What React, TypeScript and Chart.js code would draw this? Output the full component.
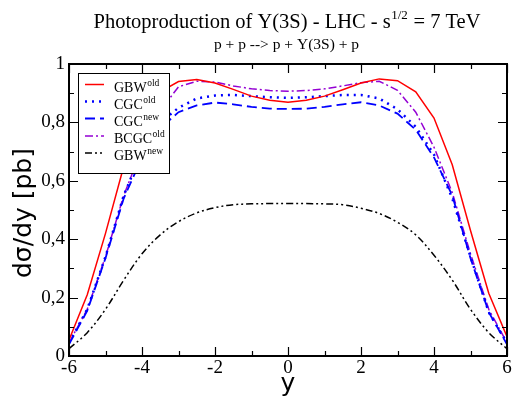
import React, { useEffect, useRef } from "react";
import { Chart, registerables } from "chart.js";

Chart.register(...registerables);

const rapidity = [-6, -5.5, -5, -4.5, -4, -3.5, -3, -2.5, -2, -1.5, -1, -0.5, 0, 0.5, 1, 1.5, 2, 2.5, 3, 3.5, 4, 4.5, 5, 5.5, 6];
const gbwOld = [0.055, 0.21, 0.42, 0.65, 0.82, 0.905, 0.94, 0.947, 0.935, 0.913, 0.89, 0.876, 0.869, 0.876, 0.89, 0.912, 0.935, 0.949, 0.943, 0.905, 0.815, 0.655, 0.43, 0.215, 0.066];
const cgcOld = [0.045, 0.16, 0.34, 0.55, 0.70, 0.80, 0.85, 0.882, 0.892, 0.894, 0.89, 0.886, 0.884, 0.886, 0.89, 0.894, 0.894, 0.882, 0.845, 0.785, 0.69, 0.54, 0.34, 0.15, 0.045];
const cgcNew = [0.04, 0.155, 0.335, 0.54, 0.68, 0.78, 0.835, 0.858, 0.868, 0.862, 0.853, 0.847, 0.846, 0.847, 0.853, 0.862, 0.869, 0.858, 0.83, 0.775, 0.68, 0.55, 0.335, 0.15, 0.04];
const bcgcOld = [0.045, 0.16, 0.34, 0.55, 0.71, 0.84, 0.922, 0.941, 0.938, 0.925, 0.915, 0.909, 0.907, 0.909, 0.915, 0.925, 0.936, 0.941, 0.91, 0.835, 0.715, 0.56, 0.35, 0.16, 0.045];
const gbwNew = [0.025, 0.08, 0.16, 0.26, 0.35, 0.415, 0.46, 0.49, 0.508, 0.518, 0.521, 0.522, 0.522, 0.522, 0.521, 0.518, 0.506, 0.488, 0.458, 0.415, 0.345, 0.26, 0.16, 0.08, 0.025];

const seriesNames = ["GBW", "CGC", "CGC", "BCGC", "GBW"];
const seriesSups = ["old", "old", "new", "old", "new"];
const xTicks = [-6, -4, -2, 0, 2, 4, 6];
const yTicks = [0, 0.2, 0.4, 0.6, 0.8, 1];

const SERIF = "'Liberation Serif', 'Times New Roman', serif";
const SANS = "'DejaVu Sans', sans-serif";

const styles = [
  { color: "#ff0000", dash: [] as number[], width: 1.5 },
  { color: "#0000ff", dash: [2, 5], width: 2.5 },
  { color: "#0000ff", dash: [10, 5], width: 1.8 },
  { color: "#9400d3", dash: [8, 3, 2, 3], width: 1.5 },
  { color: "#000000", dash: [7, 3, 2, 3, 2, 3], width: 1.5 },
];

const allSeries = [gbwOld, cgcOld, cgcNew, bcgcOld, gbwNew];

function drawSupText(ctx: CanvasRenderingContext2D, x: number, y: number, base: string, sup: string, baseFont: string, supFont: string, rise: number) {
  ctx.font = baseFont;
  ctx.fillText(base, x, y);
  const w = ctx.measureText(base).width;
  ctx.font = supFont;
  ctx.fillText(sup, x + w + 0.5, y - rise);
}

const decorPlugin = {
  id: "decor",
  afterDatasetsDraw(chart: any) {
    const ctx: CanvasRenderingContext2D = chart.ctx;
    const { left, right, top, bottom } = chart.chartArea;
    const xs = chart.scales.x;
    const ys = chart.scales.y;
    ctx.save();
    ctx.strokeStyle = "#000";
    ctx.lineWidth = 2;
    ctx.setLineDash([]);
    ctx.strokeRect(left, top, right - left, bottom - top);
    ctx.lineWidth = 1.2;
    ctx.beginPath();
    for (let v = -6; v <= 6; v += 1) {
      const px = Math.round(xs.getPixelForValue(v)) + 0.5;
      const len = v % 2 === 0 ? 9 : 5;
      ctx.moveTo(px, bottom);
      ctx.lineTo(px, bottom - len);
      ctx.moveTo(px, top);
      ctx.lineTo(px, top + len);
    }
    for (let i = 0; i <= 10; i++) {
      const py = Math.round(ys.getPixelForValue(i / 10)) + 0.5;
      const len = i % 2 === 0 ? 9 : 5;
      ctx.moveTo(left, py);
      ctx.lineTo(left + len, py);
      ctx.moveTo(right, py);
      ctx.lineTo(right - len, py);
    }
    ctx.stroke();

    // legend
    const bx = 78, by = 73, bw = 91, bh = 100;
    ctx.fillStyle = "#fff";
    ctx.fillRect(bx, by, bw, bh);
    ctx.lineWidth = 1;
    ctx.strokeStyle = "#000";
    ctx.strokeRect(bx + 0.5, by + 0.5, bw, bh);
    const rows = [84.5, 101.5, 118.5, 136, 153];
    rows.forEach((ry, i) => {
      const s = styles[i];
      ctx.strokeStyle = s.color;
      ctx.lineWidth = s.width;
      ctx.setLineDash(s.dash);
      ctx.beginPath();
      ctx.moveTo(85, ry);
      ctx.lineTo(104, ry);
      ctx.stroke();
      ctx.setLineDash([]);
      ctx.fillStyle = "#000";
      ctx.textBaseline = "alphabetic";
      ctx.textAlign = "left";
      drawSupText(ctx, 114, ry + 7, seriesNames[i], seriesSups[i], `14px ${SERIF}`, `9.5px ${SERIF}`, 6);
    });

    // title
    ctx.fillStyle = "#000";
    ctx.textAlign = "left";
    const t1 = "Photoproduction of Y(3S) - LHC - s";
    const t2 = "1/2";
    const t3 = " = 7 TeV";
    const f1 = `20.5px ${SERIF}`;
    const f2 = `13px ${SERIF}`;
    ctx.font = f1;
    const w1 = ctx.measureText(t1).width;
    const w3 = ctx.measureText(t3).width;
    ctx.font = f2;
    const w2 = ctx.measureText(t2).width;
    const total = w1 + w2 + w3 + 1;
    let tx = 287 - total / 2;
    ctx.font = f1;
    ctx.fillText(t1, tx, 28);
    tx += w1 + 0.5;
    ctx.font = f2;
    ctx.fillText(t2, tx, 19);
    tx += w2 + 0.5;
    ctx.font = f1;
    ctx.fillText(t3, tx, 28);
    ctx.font = `15.5px ${SERIF}`;
    ctx.textAlign = "center";
    ctx.fillText("p + p --> p + Y(3S) + p", 286.5, 49);

    // axis titles
    ctx.font = `25px ${SANS}`;
    ctx.textAlign = "center";
    ctx.fillText("y", 288, 391);
    ctx.save();
    ctx.translate(31, 213);
    ctx.rotate(-Math.PI / 2);
    ctx.fillText("dσ/dy [pb]", 0, 0);
    ctx.restore();
    ctx.restore();
  },
};

export default function App() {
  const ref = useRef<HTMLCanvasElement>(null);
  useEffect(() => {
    if (!ref.current) return;
    const datasets = allSeries.map((arr, i) => ({
      label: seriesNames[i] + seriesSups[i],
      data: arr.map((v, j) => ({ x: rapidity[j], y: v })),
      borderColor: styles[i].color,
      borderWidth: styles[i].width,
      borderDash: styles[i].dash,
      pointRadius: 0,
      fill: false,
      tension: i === 4 ? 0.35 : 0,
    }));
    const chart = new Chart(ref.current, {
      type: "line",
      data: { datasets },
      options: {
        responsive: false,
        animation: false,
        layout: { padding: { left: 0, right: 6, top: 64, bottom: 0 } },
        plugins: { legend: { display: false }, title: { display: false }, tooltip: { enabled: false } },
        scales: {
          x: {
            type: "linear",
            min: -6,
            max: 6,
            afterBuildTicks: (s: any) => { s.ticks = xTicks.map((v) => ({ value: v })); },
            afterFit: (s: any) => { s.height = 42; },
            ticks: { color: "#000", font: { family: SERIF, size: 19 }, padding: 1, maxRotation: 0, callback: (v: any) => String(v) },
            grid: { drawOnChartArea: false, drawTicks: false },
            border: { display: true, color: "#000", width: 2 },
          },
          y: {
            type: "linear",
            min: 0,
            max: 1,
            afterBuildTicks: (s: any) => { s.ticks = yTicks.map((v) => ({ value: v })); },
            afterFit: (s: any) => { s.width = 69; },
            ticks: {
              color: "#000",
              font: { family: SERIF, size: 19 },
              padding: 4,
              callback: (v: any) => (v === 0 ? "0" : v === 1 ? "1" : Number(v).toFixed(1).replace(".", ",")),
            },
            grid: { drawOnChartArea: false, drawTicks: false },
            border: { display: true, color: "#000", width: 2 },
          },
        },
      },
      plugins: [decorPlugin],
    });
    return () => chart.destroy();
  }, []);
  return (
    <div style={{ position: "fixed", left: 0, top: 0, width: 513, height: 398, background: "#fff" }}>
      <canvas ref={ref} width={513} height={398} />
    </div>
  );
}
